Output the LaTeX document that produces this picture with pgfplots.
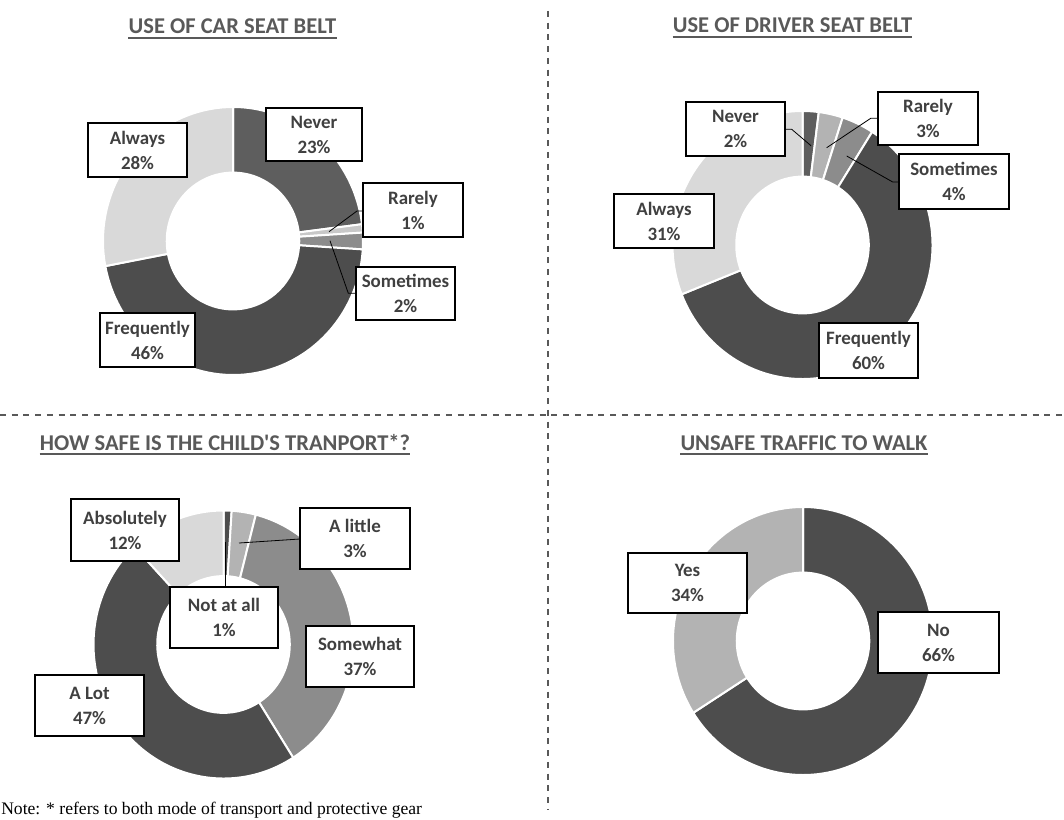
\documentclass[border=0pt]{standalone}
\usepackage{pgfplots}
\usepackage{pgfplotstable}
\pgfplotsset{compat=1.18}
\usepackage{fontspec}
\setmainfont{Carlito}
\newfontfamily\notefont{Liberation Serif}
\definecolor{cdark}{HTML}{4D4D4D}
\definecolor{cdarkb}{HTML}{5E5E5E}
\definecolor{cmid}{HTML}{8C8C8C}
\definecolor{clmid}{HTML}{B3B3B3}
\definecolor{clight}{HTML}{D9D9D9}
\definecolor{crare}{HTML}{C8C8C8}
\definecolor{titlec}{HTML}{595959}
\definecolor{labc}{HTML}{404040}
\definecolor{sepc}{HTML}{595959}

% donut data: value and colour, clockwise from 12 o'clock
\pgfplotstableread{
value color
23 cdarkb
1 crare
2 cmid
46 cdark
28 clight
}\carbelt
\pgfplotstableread{
value color
2 cdarkb
3 clmid
4 cmid
60 cdark
31 clight
}\driverbelt
\pgfplotstableread{
value color
1 cdark
3 clmid
37 cmid
47 cdark
12 clight
}\childsafe
\pgfplotstableread{
value color
66 cdark
34 clmid
}\unsafewalk

% radii in pt (1 px = 0.75 pt)
\def\Rx{97.5}\def\Ry{100.5}
\def\rix{49.7}\def\riy{51.3}
\pgfmathsetmacro\Wx{\Rx-\rix}
\pgfmathsetmacro\Wy{\Ry-\riy}

\newcommand\donut[3]{%
  \gdef\curang{90}%
  \pgfplotstablegetrowsof{#1}%
  \pgfmathtruncatemacro\nrows{\pgfplotsretval-1}%
  \pgfplotsforeachungrouped \i in {0,...,\nrows}{%
    \pgfplotstablegetelem{\i}{value}\of{#1}\let\val\pgfplotsretval
    \pgfplotstablegetelem{\i}{color}\of{#1}\let\col\pgfplotsretval
    \pgfmathsetmacro\aA{\curang}%
    \pgfmathsetmacro\aB{\curang-3.6*\val}%
    \xdef\curang{\aB}%
    \edef\tmp{\noexpand\fill[fill=\col, draw=white, line width=1.5pt]
      (axis cs:#2,{819-#3}) ++(\aA:\Rx pt and \Ry pt)
      arc[start angle=\aA, end angle=\aB, x radius=\Rx pt, y radius=\Ry pt]
      -- ++(\aB+180:\Wx pt and \Wy pt)
      arc[start angle=\aB, end angle=\aA, x radius=\rix pt, y radius=\riy pt]
      -- cycle;}%
    \tmp
  }%
}

\tikzset{
  lbl/.style={draw=black, line width=0.9pt, fill=white, align=center,
    inner sep=0pt, text=labc,
    font=\bfseries\fontsize{14.2}{18.75}\selectfont},
  ttl/.style={text=titlec, inner sep=0pt, font=\bfseries\fontsize{16.9}{20}\selectfont},
  uline/.style={draw=titlec, line width=1.3pt},
  leader/.style={draw=black, line width=0.6pt},
}
\newcommand\lab[6]{%
  \node[lbl, minimum width={#3*0.75pt}, minimum height={#4*0.75pt}]
    at (axis cs:#1,{819-#2}) {#5\\#6};}
\newcommand\ttl[4]{%
  \node[ttl, anchor=base] (#1) at (axis cs:#2,{819-#3}) {#4};
  \draw[uline] ([yshift=-3.2pt]#1.base west) -- ([yshift=-3.2pt]#1.base east);}

\begin{document}
\begin{tikzpicture}
\begin{axis}[scale only axis, width=798pt, height=614.25pt,
  xmin=0, xmax=1064, ymin=0, ymax=819, hide axis, clip=false]

% separators
\draw[sepc, line width=1.5pt, dash pattern=on 4.5pt off 4.3pt]
  (axis cs:548.3,808) -- (axis cs:548.3,10);
\draw[sepc, line width=1.5pt, dash pattern=on 4.5pt off 4.3pt]
  (axis cs:0,404) -- (axis cs:1064,404);

% titles (baseline positions in image pixels)
\ttl{t1}{232.5}{33.5}{USE OF CAR SEAT BELT}
\ttl{t2}{792.5}{33}{USE OF DRIVER SEAT BELT}
\ttl{t3}{225}{450}{HOW SAFE IS THE CHILD\textquotesingle S TRANPORT*?}
\ttl{t4}{804}{450}{UNSAFE TRAFFIC TO WALK}

% donuts
\donut{\carbelt}{233}{241}
\donut{\driverbelt}{802.5}{245}
\donut{\childsafe}{223.5}{644.5}
\donut{\unsafewalk}{803}{641}

% leader lines
\draw[leader] (axis cs:363,608) -- (axis cs:357,608) -- (axis cs:329,587.3);
\draw[leader] (axis cs:356,525.7) -- (axis cs:348.3,525.7) -- (axis cs:330,578.3);
\draw[leader] (axis cs:785,689.7) -- (axis cs:791.7,689.7) -- (axis cs:811,673.3);
\draw[leader] (axis cs:877.7,700.7) -- (axis cs:870.7,700.7) -- (axis cs:826.7,671.3);
\draw[leader] (axis cs:899,637) -- (axis cs:892.7,637) -- (axis cs:846.7,663);
\draw[leader] (axis cs:300,280) -- (axis cs:239,276);
\draw[leader] (axis cs:225,232) -- (axis cs:225,277);

% labels: chart 1
\lab{314}{134.5}{96}{53}{Never}{23\%}
\lab{413}{210}{100}{54}{Rarely}{1\%}
\lab{405.5}{293.5}{99}{53}{Sometimes}{2\%}
\lab{137.5}{150}{99}{54}{Always}{28\%}
\lab{147.5}{340}{95}{54}{Frequently}{46\%}
% chart 2
\lab{735.5}{129}{99}{54}{Never}{2\%}
\lab{928}{118.5}{100}{53}{Rarely}{3\%}
\lab{954}{181.5}{110}{55}{Sometimes}{4\%}
\lab{664}{221}{100}{54}{Always}{31\%}
\lab{868.5}{350.5}{99}{55}{Frequently}{60\%}
% chart 3
\lab{125}{530}{108}{62}{Absolutely}{12\%}
\lab{355}{538.5}{110}{61}{A little}{3\%}
\lab{224}{617.5}{108}{61}{Not at all}{1\%}
\lab{360}{656.5}{108}{61}{Somewhat}{37\%}
\lab{89.5}{705.5}{109}{61}{A Lot}{47\%}
% chart 4
\lab{687.5}{583}{119}{60}{Yes}{34\%}
\lab{938.5}{642.5}{121}{61}{No}{66\%}

% note
\node[anchor=base west, inner sep=0pt, font=\notefont\fontsize{13.2}{15}\selectfont]
  at (axis cs:1,4.5) {Note: * refers to both mode of transport and protective gear};
\end{axis}
\pgfresetboundingbox
\useasboundingbox (0,0) rectangle (798pt,614.25pt);
\end{tikzpicture}
\end{document}
